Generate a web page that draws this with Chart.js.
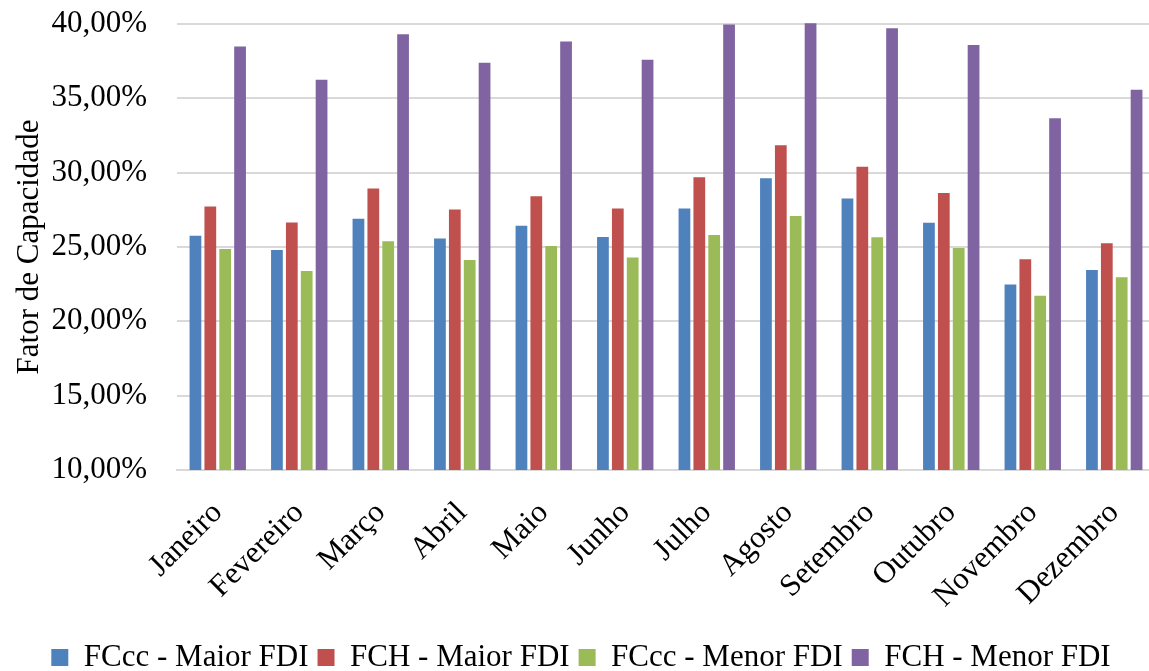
<!DOCTYPE html>
<html lang="pt-BR">
<head>
    <meta charset="UTF-8">
    <title>Fator de Capacidade</title>
    <style>
        html, body {
            margin: 0;
            padding: 0;
            background-color: #ffffff;
            overflow: hidden;
        }
        #chartContainer {
            width: 1155px;
            height: 671px;
        }
    </style>
    <script src="https://cdn.jsdelivr.net/npm/chart.js@4.4.1/dist/chart.umd.min.js"></script>
</head>
<body>
    <div id="chartContainer">
        <canvas id="myChart"></canvas>
    </div>
    <script>
        // Meses (eixo X)
        const meses = ['Janeiro', 'Fevereiro', 'Março', 'Abril', 'Maio', 'Junho',
                       'Julho', 'Agosto', 'Setembro', 'Outubro', 'Novembro', 'Dezembro'];

        // Séries (valores em %)
        const fcccMaior = [25.76, 24.80, 26.90, 25.58, 26.43, 25.67, 27.59, 29.62, 28.26, 26.63, 22.48, 23.46];
        const fchMaior  = [27.72, 26.65, 28.93, 27.52, 28.42, 27.59, 29.69, 31.85, 30.40, 28.64, 24.17, 25.25];
        const fcccMenor = [24.87, 23.39, 25.38, 24.13, 25.07, 24.29, 25.80, 27.08, 25.65, 24.93, 21.72, 22.97];
        const fchMenor  = [38.48, 36.25, 39.31, 37.39, 38.82, 37.59, 39.96, 40.05, 39.71, 38.59, 33.66, 35.58];

        const nomesSeries = ['FCcc - Maior FDI', 'FCH - Maior FDI', 'FCcc - Menor FDI', 'FCH - Menor FDI'];

        // Eixo Y
        const yMin = 10;
        const yMax = 40;
        const yPasso = 5;

        const cores = ['#4f81bd', '#c0504d', '#9bbb59', '#8064a2'];
        const fonte = '"Liberation Serif", "Times New Roman", serif';

        const series = [fcccMaior, fchMaior, fcccMenor, fchMenor];

        const ctx = document.getElementById('myChart').getContext('2d');

        new Chart(ctx, {
            type: 'bar',
            data: {
                labels: meses,
                datasets: series.map((valores, i) => ({
                    label: nomesSeries[i],
                    data: valores,
                    backgroundColor: cores[i],
                    borderWidth: 0,
                    clip: { left: 0, top: 4, right: 0, bottom: 0 },
                    categoryPercentage: 0.73,
                    barPercentage: 0.79
                }))
            },
            options: {
                responsive: true,
                maintainAspectRatio: false,
                animation: false,
                layout: {
                    padding: { left: 7, right: 0, top: 24, bottom: -12 }
                },
                plugins: {
                    tooltip: { enabled: false },
                    legend: {
                        position: 'bottom',
                        labels: {
                            color: '#000000',
                            font: { family: fonte, size: 31 },
                            boxWidth: 17,
                            boxHeight: 17,
                            padding: 9
                        }
                    }
                },
                scales: {
                    x: {
                        grid: { display: false, drawTicks: false },
                        border: { display: true, color: '#d9d9d9', width: 2 },
                        ticks: {
                            color: '#000000',
                            font: { family: fonte, size: 31 },
                            maxRotation: 45,
                            minRotation: 45,
                            padding: 25
                        },
                        afterFit: (escala) => {
                            escala.height = 163;
                            escala.paddingLeft = 0;
                            escala.paddingRight = 0;
                        }
                    },
                    y: {
                        min: yMin,
                        max: yMax,
                        grid: { color: '#d9d9d9', lineWidth: 2, drawTicks: false },
                        border: { display: false },
                        ticks: {
                            stepSize: yPasso,
                            color: '#000000',
                            padding: 30,
                            font: { family: fonte, size: 31 },
                            callback: (v) => v.toFixed(2).replace('.', ',') + '%'
                        },
                        title: {
                            display: true,
                            text: 'Fator de Capacidade',
                            color: '#000000',
                            font: { family: fonte, size: 31 },
                            padding: 4
                        },
                        afterFit: (escala) => {
                            escala.width = 170;
                            escala.paddingTop = 0;
                            escala.paddingBottom = 0;
                        }
                    }
                }
            }
        });
    </script>
</body>
</html>
